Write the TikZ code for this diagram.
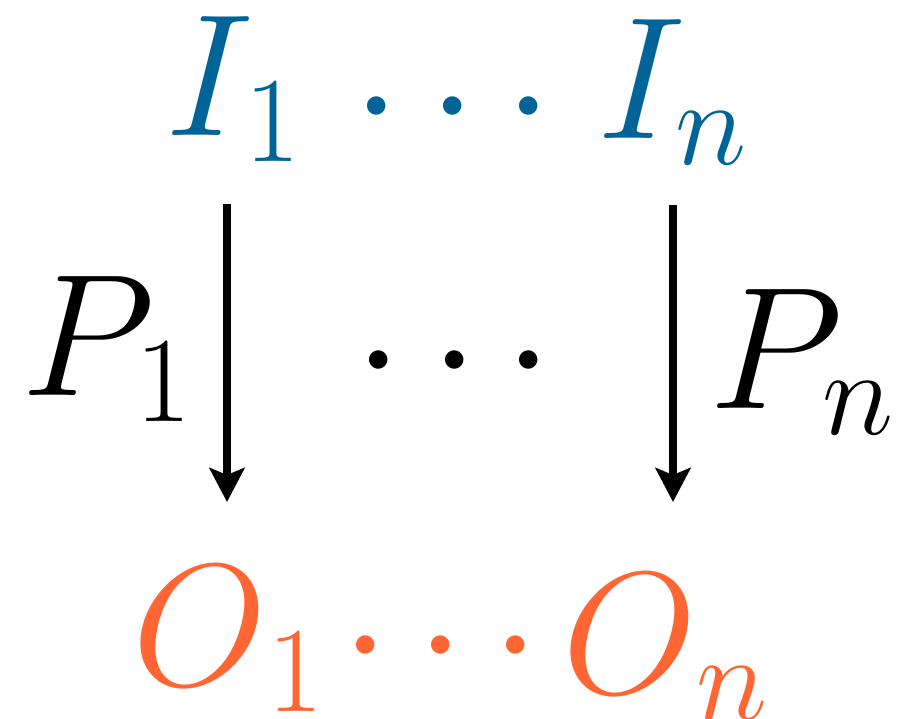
\documentclass[tikz,border=0pt]{standalone}
\usepackage{fix-cm}
\usetikzlibrary{arrows.meta}
\definecolor{inblue}{RGB}{0,100,152}
\definecolor{outorange}{RGB}{255,102,51}
\begin{document}
\begin{tikzpicture}[x=1pt,y=-1pt,
  lbl/.style={inner sep=0pt, anchor=base west, font=\fontsize{174}{200}\selectfont},
  dotm/.style={inner sep=0pt, anchor=base, font=\fontsize{174}{200}\selectfont},
  mapar/.style={line width=7.5pt, -{Stealth[length=34pt,width=35pt,inset=7pt]}}]
\useasboundingbox (0,0) rectangle (905,718);
% top row
\node[lbl, text=inblue] (I1) at (165,135) {$I_{\kern4pt 1}$};
\node[dotm, text=inblue] (td1) at (377,149.5) {$\cdot$};
\node[dotm, text=inblue] (td2) at (453,149.5) {$\cdot$};
\node[dotm, text=inblue] (td3) at (529,149.5) {$\cdot$};
\node[lbl, text=inblue] (In) at (597,138) {$I_{\kern3pt n}$};
% middle row
\node[lbl] (P1) at (21,395) {$P_{\kern4pt 1}$};
\node[dotm] (md1) at (379,403.5) {$\cdot$};
\node[dotm] (md2) at (455,403.5) {$\cdot$};
\node[dotm] (md3) at (529,403.5) {$\cdot$};
\node[lbl] (Pn) at (709,408) {$P_{\kern3pt n}$};
% bottom row
\node[lbl, text=outorange] (O1) at (132,685) {$O_{\kern5pt 1}$};
\node[dotm, text=outorange] (bd1) at (366,688.5) {$\cdot$};
\node[dotm, text=outorange] (bd2) at (441,688.5) {$\cdot$};
\node[dotm, text=outorange] (bd3) at (516,688.5) {$\cdot$};
\node[lbl, text=outorange] (On) at (562,693) {$O_{\kern4pt n}$};
% arrows
\coordinate (a1s) at (227,204);
\coordinate (a1e) at (227,502);
\coordinate (a2s) at (673,205);
\coordinate (a2e) at (673,502);
\draw[mapar] (a1s) -- (a1e);
\draw[mapar] (a2s) -- (a2e);
\end{tikzpicture}
\end{document}
